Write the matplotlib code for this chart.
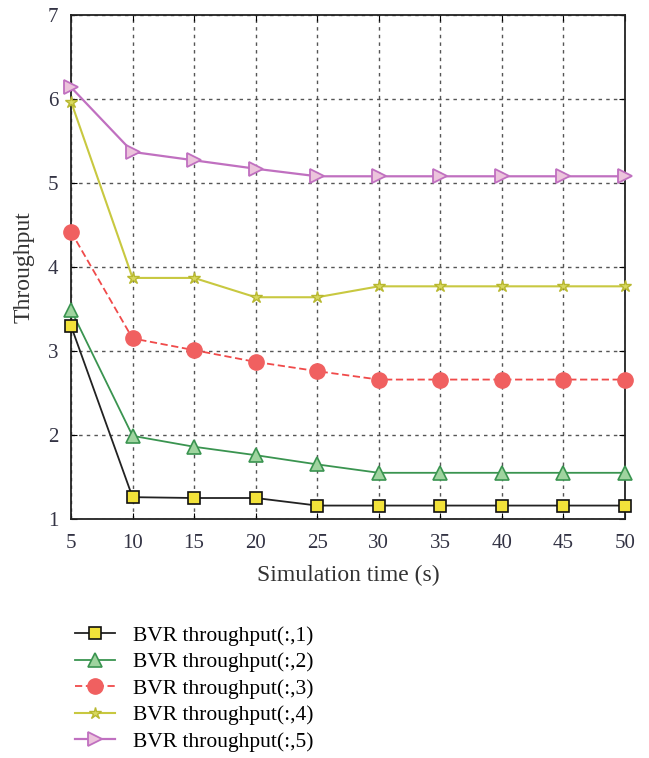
import matplotlib
matplotlib.use("Agg")
import matplotlib.pyplot as plt

plt.rcParams['font.family'] = ['Liberation Serif', 'DejaVu Serif']

# data
sim_time = [5, 10, 15, 20, 25, 30, 35, 40, 45, 50]
bvr_1 = [3.30, 1.26, 1.25, 1.25, 1.16, 1.16, 1.16, 1.16, 1.16, 1.16]
bvr_2 = [3.49, 1.99, 1.86, 1.76, 1.65, 1.55, 1.55, 1.55, 1.55, 1.55]
bvr_3 = [4.42, 3.15, 3.01, 2.87, 2.76, 2.66, 2.66, 2.66, 2.66, 2.66]
bvr_4 = [5.97, 3.87, 3.87, 3.64, 3.64, 3.77, 3.77, 3.77, 3.77, 3.77]
bvr_5 = [6.14, 5.37, 5.27, 5.17, 5.08, 5.08, 5.08, 5.08, 5.08, 5.08]
labels = ["BVR throughput(:,1)", "BVR throughput(:,2)", "BVR throughput(:,3)",
          "BVR throughput(:,4)", "BVR throughput(:,5)"]

fig = plt.figure(figsize=(6.49, 7.58), dpi=100)
ax = fig.add_axes([0.1094, 0.3153, 0.8536, 0.6649])

ax.plot(sim_time, bvr_1, color='#222222', lw=1.3, marker='s', ms=9,
        mfc='#f2e23a', mec='#111111', mew=1.2, label=labels[0], zorder=5, clip_on=False)
ax.plot(sim_time, bvr_2, color='#3a9450', lw=1.3, marker='^', ms=10,
        mfc='#9fd49f', mec='#3a9450', mew=1.2, label=labels[1], zorder=4, clip_on=False)
ax.plot(sim_time, bvr_3, color='#f04a4a', lw=1.3, ls=(0, (4, 2)), marker='o', ms=11,
        mfc='#f06060', mec='#f06060', mew=1, label=labels[2], zorder=4, clip_on=False)
ax.plot(sim_time, bvr_4, color='#c8c840', lw=1.5, marker='*', ms=9,
        mfc='#d8d860', mec='#b8b830', mew=1, label=labels[3], zorder=4, clip_on=False)
ax.plot(sim_time, bvr_5, color='#c070c0', lw=1.6, marker='>', ms=10,
        mfc='#ecc4dc', mec='#c070c0', mew=1.3, label=labels[4], zorder=4, clip_on=False)

ax.set_xlim(5, 50)
ax.set_ylim(1, 7)
ax.set_xticks(sim_time)
ax.set_yticks(range(1, 8))
ax.grid(True, ls=(0, (2.5, 3)), color='#555555', lw=1)
ax.tick_params(direction='in', top=True, right=True, labelsize=15,
               labelcolor='#333344', length=4)
ax.tick_params(axis='x', pad=11)
ax.tick_params(axis='y', pad=9)
for s in ax.spines.values():
    s.set_color('#222222')
    s.set_linewidth(1.3)

ax.set_xlabel("Simulation time (s)", fontsize=17, color='#333333', labelpad=8)
ax.set_ylabel("Throughput", fontsize=17, color='#333333', labelpad=10)

handles, lbls = ax.get_legend_handles_labels()
fig.legend(handles, lbls, loc='upper left', bbox_to_anchor=(0.085, 0.2),
           frameon=False, fontsize=15.5, handlelength=1.9, labelspacing=0.3,
           handletextpad=0.8)

fig.savefig("out.png", dpi=100)
